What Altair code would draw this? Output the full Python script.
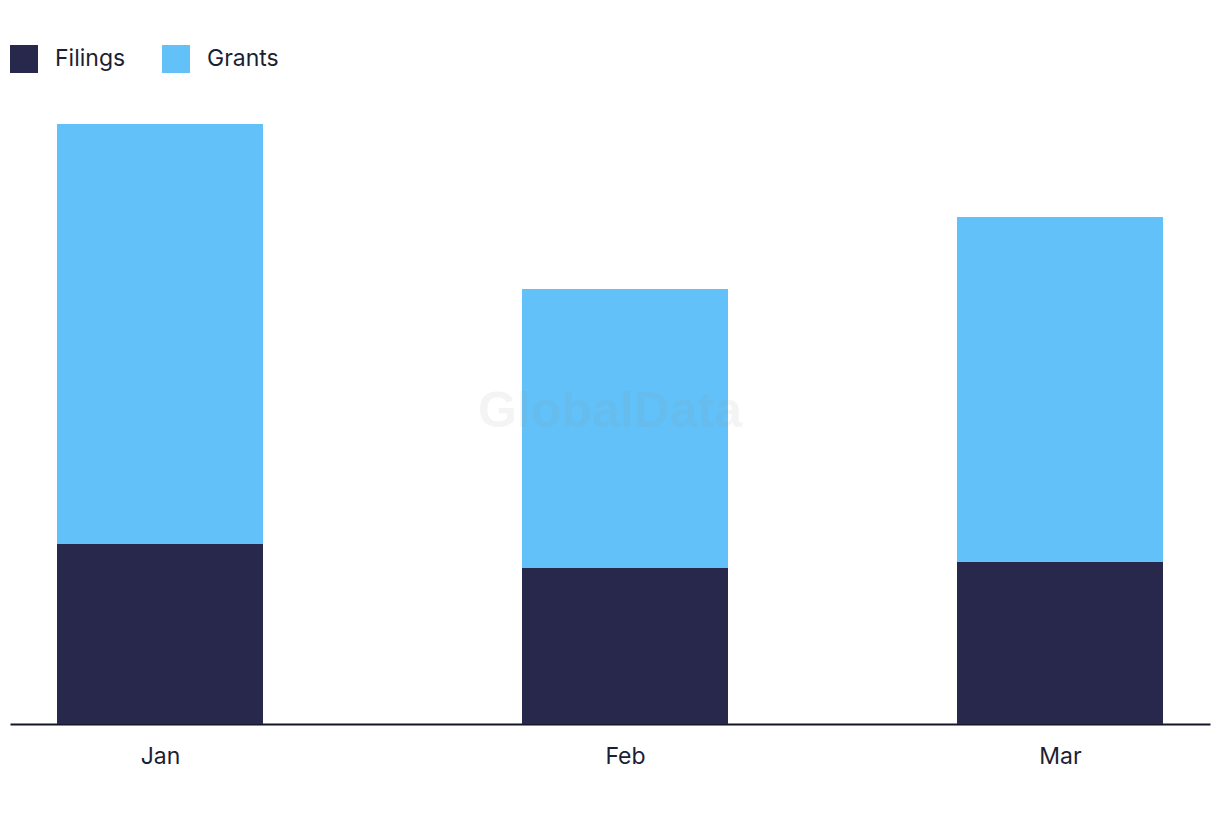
import altair as alt
import pandas as pd

months = ["2024-01-01", "2024-02-01", "2024-03-01"]
filings = [60, 52, 54]
grants = [140, 93, 115]
series = ["Filings", "Grants"]
colors = ["#28284c", "#62c1f9"]

rows = []
for m, f, g in zip(months, filings, grants):
    rows.append({"month": m, "type": "Filings", "value": f, "order": 0})
    rows.append({"month": m, "type": "Grants", "value": g, "order": 1})
df = pd.DataFrame(rows)

FONT = "Inter"
TEXT = "#1e1e32"

bars = alt.Chart(df).mark_bar(size=206).encode(
    x=alt.X(
        "month:T",
        scale=alt.Scale(
            type="utc",
            domain=[
                alt.DateTime(year=2023, month=12, date=22, utc=True),
                alt.DateTime(year=2024, month=3, date=11, utc=True),
            ],
            nice=False,
            padding=0,
        ),
        axis=alt.Axis(
            title=None,
            values=[
                alt.DateTime(year=2024, month=1, date=1, utc=True),
                alt.DateTime(year=2024, month=2, date=1, utc=True),
                alt.DateTime(year=2024, month=3, date=1, utc=True),
            ],
            labelExpr="utcFormat(datum.value, '%b')",
            ticks=False,
            grid=False,
            domainColor="#14142b",
            domainWidth=2,
            labelFont=FONT,
            labelFontSize=23,
            labelColor=TEXT,
            labelPadding=21,
        ),
    ),
    y=alt.Y(
        "value:Q",
        stack="zero",
        scale=alt.Scale(domain=[0, 200], nice=False),
        axis=None,
    ),
    color=alt.Color(
        "type:N",
        scale=alt.Scale(domain=series, range=colors),
        legend=alt.Legend(
            title=None,
            orient="none",
            legendX=0,
            legendY=-79,
            direction="horizontal",
            symbolType="square",
            symbolSize=784,
            symbolStrokeWidth=0,
            symbolOpacity=1,
            labelFont=FONT,
            labelFontSize=23,
            labelColor=TEXT,
            labelOffset=17,
            columnPadding=36,
        ),
    ),
    order=alt.Order("order:Q", sort="ascending"),
)

wm = alt.Chart(pd.DataFrame({"t": ["GlobalData"]})).mark_text(
    font="Liberation Sans",
    fontWeight="bold",
    fontSize=50,
    color="#999999",
    opacity=0.1,
    align="center",
    baseline="middle",
).encode(text="t:N", x=alt.value(600), y=alt.value(288))

chart = (
    alt.layer(bars, wm)
    .properties(
        width=1200,
        height=600,
        autosize=alt.AutoSizeParams(type="none"),
        padding={"left": 10, "top": 124, "right": 10, "bottom": 98},
    )
    .configure_view(stroke=None)
)

chart.save("out.html", embed_options={"renderer": "svg", "actions": False})
